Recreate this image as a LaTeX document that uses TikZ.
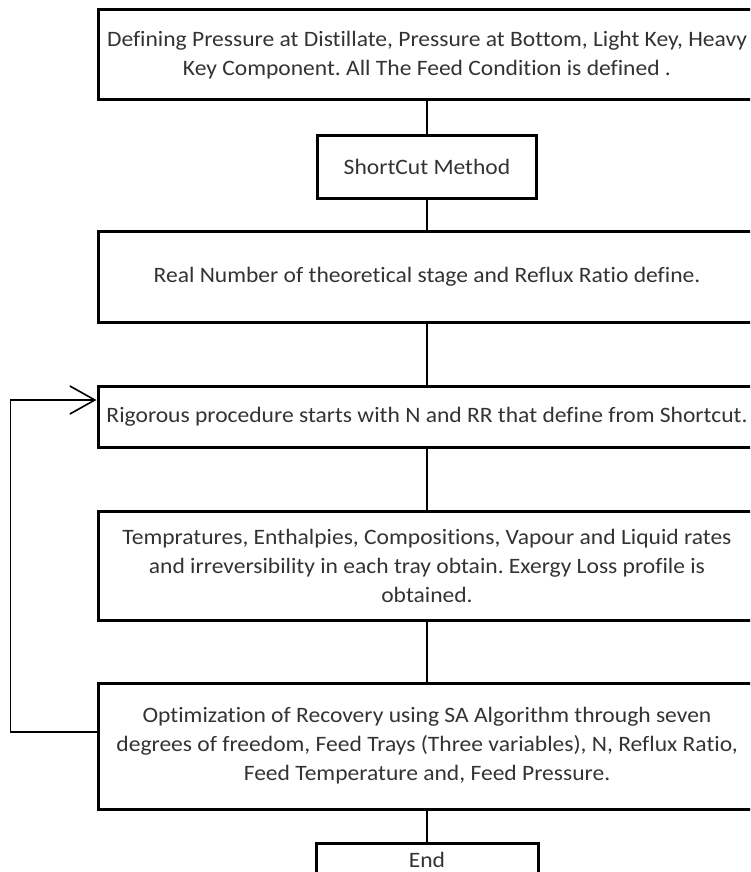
\documentclass[tikz,border=0pt]{standalone}
\usepackage{fontspec}
\setmainfont{Carlito}[FakeStretch=1.07,Ligatures=NoCommon]
\usetikzlibrary{arrows.meta}
\frenchspacing

\tikzset{
  procbox/.style={draw, line width=3pt, align=center, text=black!80, inner sep=0pt,
    font=\fontsize{22}{29}\selectfont},
  widebox/.style={procbox, minimum width=658pt},
  link/.style={line width=1.3pt}
}

\begin{document}
\begin{tikzpicture}[x=1pt,y=-1pt]
  \useasboundingbox (0,0) rectangle (750,872);
  \clip (0,0) rectangle (750,872);
  % Process boxes
  \node[widebox, minimum height=90pt] (define) at (427,55)
    {Defining Pressure at Distillate, Pressure at Bottom, Light Key, Heavy\\Key Component. All The Feed Condition is defined .};
  \node[procbox, minimum width=219pt, minimum height=63pt] (shortcut) at (427,166.5) {ShortCut Method};
  \node[widebox, minimum height=91pt] (real) at (427,276.5)
    {Real Number of theoretical stage and Reflux Ratio define.};
  \node[widebox, minimum height=61pt] (rigorous) at (427,416.5)
    {Rigorous procedure starts with N and RR that define from Shortcut.};
  \node[widebox, minimum height=109pt] (temps) at (427,565.5)
    {Tempratures, Enthalpies, Compositions, Vapour and Liquid rates\\and irreversibility in each tray obtain. Exergy Loss profile is\\obtained.};
  \node[widebox, minimum height=126pt] (optim) at (427,746)
    {Optimization of Recovery using SA Algorithm through seven\\degrees of freedom, Feed Trays (Three variables), N, Reflux Ratio,\\Feed Temperature and, Feed Pressure.};
  \node[procbox, minimum width=222pt, minimum height=32pt, anchor=north] (finish) at (427,842) {End};
  % Connectors
  \draw[link] (define) -- (shortcut);
  \draw[link] (shortcut) -- (real);
  \draw[link] (real) -- (rigorous);
  \draw[link] (rigorous) -- (temps);
  \draw[link] (temps) -- (optim);
  \draw[link] (optim) -- (finish);
  % Feedback loop
  \draw[link, -{Straight Barb[length=25pt,width=28pt,line width=1.6pt]}]
    ([yshift=14pt]optim.west) -- ++(-86,0) |- ([yshift=16.5pt]rigorous.west);
\end{tikzpicture}
\end{document}
